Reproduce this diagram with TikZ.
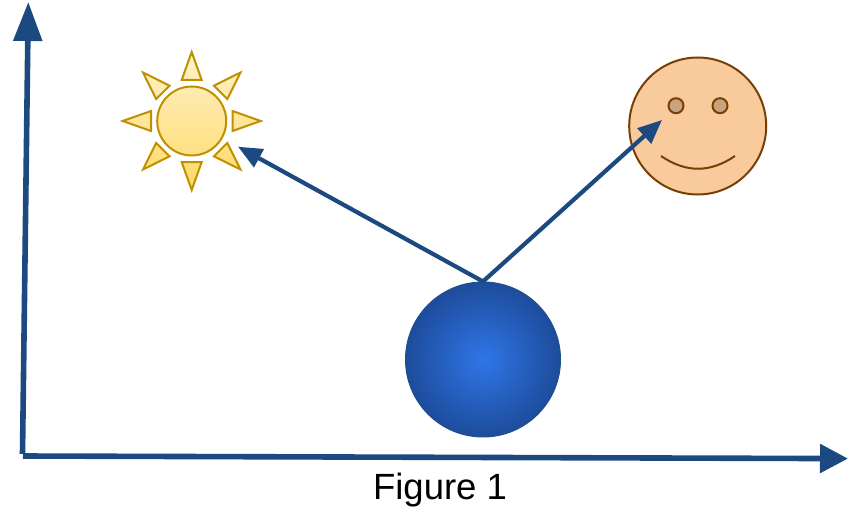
\documentclass[tikz,border=0pt]{standalone}
\usepackage{fontspec}
\setmainfont{Liberation Sans}
\usetikzlibrary{arrows.meta}
\definecolor{axisblue}{HTML}{1C4A80}
\definecolor{sunline}{HTML}{BF9000}
\definecolor{suntop}{HTML}{FFF2CC}
\definecolor{sunbot}{HTML}{FFD966}
\definecolor{faceline}{HTML}{783F04}
\definecolor{facefill}{HTML}{F9CB9C}
\definecolor{eyefill}{HTML}{C9A27E}
\definecolor{ballin}{HTML}{2F76E8}
\definecolor{ballout}{HTML}{1D4C9B}
\definecolor{ballrim}{HTML}{1F5090}
\tikzset{
  axisline/.style={draw=axisblue,line width=5.6pt,-{Triangle[length=#1,width=28pt]}},
  axisline/.default=28pt,
  rayline/.style={draw=axisblue,line width=4.2pt,-{Triangle[length=24pt,width=20pt]}},
  sunshape/.style={draw=sunline,line width=2pt,top color=suntop,bottom color=sunbot,line join=miter},
  faceshape/.style={circle,draw=faceline,line width=2pt,fill=facefill,inner sep=0pt,minimum size=137pt},
  eyeshape/.style={circle,draw=faceline,line width=2pt,fill=eyefill,inner sep=0pt,minimum size=15pt},
  ballshape/.style={circle,draw=ballrim,line width=1pt,inner color=ballin,outer color=ballout,inner sep=0pt,minimum size=155pt},
}
\begin{document}
\begin{tikzpicture}[x=1pt,y=-1pt]
\useasboundingbox (0,0) rectangle (848,508);
% sun
\draw[sunshape]
  (191.7,121) circle[radius=34.5]
  (191.7,52) -- (201.7,80) -- (181.7,80) -- cycle
  (191.7,190) -- (201.7,162) -- (181.7,162) -- cycle
  (260.7,121) -- (232.5,111) -- (232.5,131) -- cycle
  (122.7,121) -- (151,111) -- (151,131) -- cycle
  (240.5,72.5) -- (214,85.7) -- (227.3,99) -- cycle
  (143,72.5) -- (169.5,85.7) -- (156.2,99) -- cycle
  (240.5,169.5) -- (214,156.3) -- (227.3,143) -- cycle
  (143,169.5) -- (169.5,156.3) -- (156.2,143) -- cycle;
% face
\node[faceshape] (face) at (697.7,126) {};
\node[eyeshape] (eyeL) at (676,105.7) {};
\node[eyeshape] (eyeR) at (720,105.7) {};
\coordinate (smileL) at (661,156);
\coordinate (smileR) at (735,156);
\draw[draw=faceline,line width=2pt] (smileL) .. controls (686,173) and (710,173) .. (smileR);
% ball
\node[ballshape] (ball) at (483,359.5) {};
% connectors
\coordinate (sunEnd) at (238,146.7);
\coordinate (faceEnd) at (662,120);
\draw[rayline] (ball.north) -- (sunEnd);
\draw[rayline] (ball.north) -- (faceEnd);
% axes
\coordinate (origin) at (22.5,454);
\coordinate (yEnd) at (28.3,2);
\coordinate (xStart) at (23,456);
\coordinate (xEnd) at (848,458.6);
\draw[axisline=39pt] (origin) -- (yEnd);
\draw[axisline=28pt] (xStart) -- (xEnd);
\node[inner sep=0pt,font=\fontsize{36.5}{40}\selectfont] (cap) at (440,490) {Figure 1};
\end{tikzpicture}
\end{document}
